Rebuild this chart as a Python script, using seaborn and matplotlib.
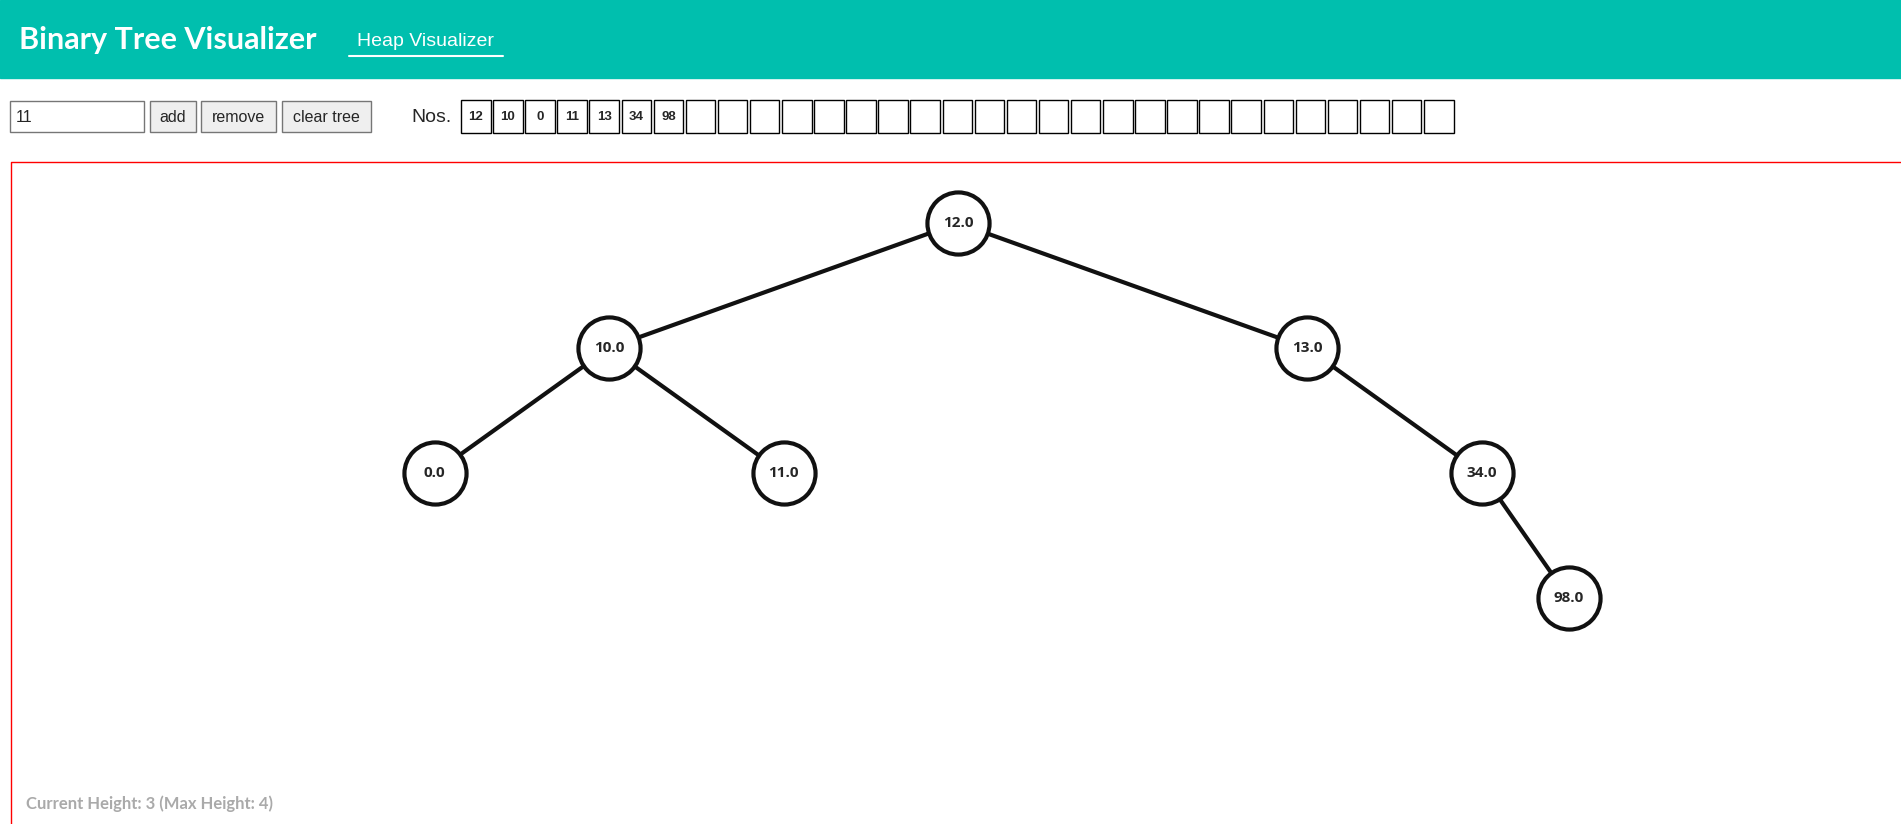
import matplotlib
matplotlib.use("Agg")
import matplotlib.pyplot as plt
import seaborn as sns
import pandas as pd
from matplotlib.patches import Rectangle, FancyBboxPatch

sns.set_theme(style="white")
plt.rcParams['font.family'] = ['Liberation Sans', 'DejaVu Sans']

insert_order = [12, 10, 0, 11, 13, 34, 98]
slot_count = 31
input_value = "11"
buttons = ["add", "remove", "clear tree"]
title = "Binary Tree Visualizer"
nav_link = "Heap Visualizer"
status = "Current Height: 3 (Max Height: 4)"

# build BST
tree = {}
def insert(v):
    if not tree:
        tree[v] = (0, 0); return
    node = insert_order[0]; d = 0; path = 0
    cur = list(tree.keys())[0]
    while True:
        dd, pp = tree[cur]
        kids = [k for k, (kd, kp) in tree.items() if kd == dd + 1 and kp // 2 == pp]
        go = 1 if v > cur else 0
        target = pp * 2 + go
        child = [k for k in kids if tree[k][1] == target]
        if child:
            cur = child[0]
        else:
            tree[v] = (dd + 1, target); return
for v in insert_order:
    insert(v)

root_x, root_y, top_off, level_dy = 958, 223, 349, 125
def pos(d, p):
    x = root_x
    off = top_off
    for lvl in range(d):
        bit = (p >> (d - 1 - lvl)) & 1
        x += off if bit else -off
        off /= 2
    return x, root_y + level_dy * d
nodes = pd.DataFrame([(v, *pos(*tree[v]), tree[v][0], tree[v][1]) for v in insert_order],
                     columns=["val", "x", "y", "d", "p"])

fig = plt.figure(figsize=(19.01, 8.24), dpi=100)
ax = fig.add_axes([0, 0, 1, 1])
ax.set_xlim(0, 1901); ax.set_ylim(824, 0); ax.axis("off")

# header
ax.add_patch(Rectangle((0, 0), 1901, 78, color="#00bfae", zorder=0))
ax.text(19, 40, title, color="white", fontsize=22, fontweight="bold", family=["Lato", "DejaVu Sans"], va="center")
ax.text(357, 41, nav_link, color="white", fontsize=14, va="center")
ax.plot([349, 503], [55.5, 55.5], color="white", lw=1.5)

# controls
ax.add_patch(Rectangle((10, 101), 134, 31, fc="white", ec="#767676", lw=1))
ax.text(16, 117, input_value, fontsize=11.5, va="center")
bx = [150, 201, 282]; bw = [46, 75, 89]
for x, w, t in zip(bx, bw, buttons):
    ax.add_patch(Rectangle((x, 101), w, 31, fc="#efefef", ec="#767676", lw=1))
    ax.text(x + w / 2, 117, t, fontsize=11.5, ha="center", va="center")
ax.text(411, 117, "Nos.", fontsize=14, va="center")
for i in range(slot_count):
    x = 461 + i * 32.1
    ax.add_patch(Rectangle((x, 100), 29.5, 33, fc="white", ec="black", lw=1))
    if i < len(insert_order):
        ax.text(x + 14.75, 117, str(insert_order[i]), fontsize=9.5, fontweight="bold", ha="center", va="center")

# frame
ax.plot([11, 11, 1901], [824, 162, 162], color="red", lw=1)

# edges
for _, r in nodes.iterrows():
    if r.d > 0:
        par = nodes[(nodes.d == r.d - 1) & (nodes.p == r.p // 2)].iloc[0]
        sns.lineplot(x=[par.x, r.x], y=[par.y, r.y], ax=ax, color="#111111", lw=3, zorder=2, sort=False)
sns.scatterplot(data=nodes, x="x", y="y", s=2000, color="white", edgecolor="#111111", linewidth=3, ax=ax, zorder=3)
for _, r in nodes.iterrows():
    ax.text(r.x, r.y, str(r.val), fontsize=11, fontweight="bold", ha="center", va="center", zorder=4,
            family=["Open Sans", "DejaVu Sans"])
ax.set_xlim(0, 1901); ax.set_ylim(824, 0); ax.axis("off")
ax.text(26, 804, status, color="#aaaaaa", fontsize=12, fontweight="bold", family=["Lato", "DejaVu Sans"], va="center")
fig.savefig("out.png", dpi=100)
